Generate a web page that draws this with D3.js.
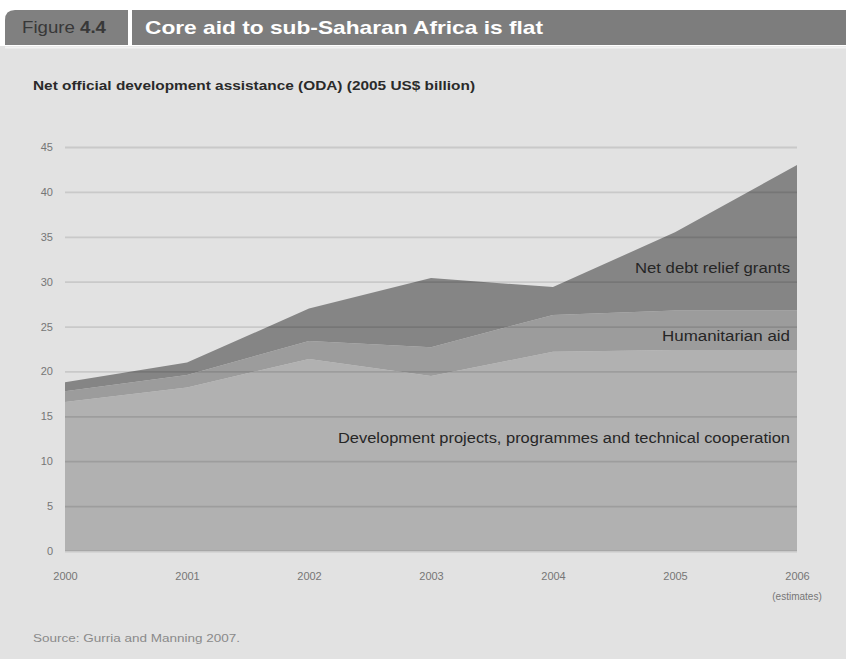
<!DOCTYPE html>
<html>
<head>
<meta charset="utf-8">
<script src="https://cdn.jsdelivr.net/npm/d3@7"></script>
<style>
  html, body { margin: 0; padding: 0; background: #ffffff; }
  svg { display: block; }
</style>
</head>
<body>
<script>
// Net ODA to sub-Saharan Africa, 2005 US$ billion
const years = ["2000", "2001", "2002", "2003", "2004", "2005", "2006"];
const development = [16.6, 18.2, 21.4, 19.5, 22.2, 22.4, 22.4];
const humanitarian = [1.2, 1.4, 2.0, 3.2, 4.1, 4.4, 4.4];
const debtRelief = [1.0, 1.4, 3.6, 7.7, 3.1, 8.7, 16.2];
const yTicks = [0, 5, 10, 15, 20, 25, 30, 35, 40, 45];
const seriesNames = ["Development projects, programmes and technical cooperation", "Humanitarian aid", "Net debt relief grants"];

const W = 846, H = 659;
const margin = { left: 65, right: 49, top: 147, bottom: 108 };
const iw = W - margin.left - margin.right;
const ih = H - margin.top - margin.bottom;
const narrow = "'Liberation Sans Narrow', 'Arial Narrow', 'Liberation Sans', Arial, sans-serif";

const svg = d3.select("body").append("svg").attr("width", W).attr("height", H);

// panel background
svg.append("rect").attr("x", 0).attr("y", 46).attr("width", W).attr("height", H - 46).attr("fill", "#e2e2e2");

// header bar: figure tab + title band
const header = svg.append("g");
header.append("path")
  .attr("d", "M5,45 L5,20 Q5,10 15,10 L128,10 L128,45 Z")
  .attr("fill", "#808080");
header.append("rect").attr("x", 132).attr("y", 10).attr("width", W - 132).attr("height", 35).attr("fill", "#7d7d7d");
header.append("line").attr("x1", 5).attr("x2", W).attr("y1", 47.5).attr("y2", 47.5)
  .attr("stroke", "#f2f2f2").attr("stroke-width", 2);
const figLabel = header.append("text").attr("x", 22).attr("y", 33)
  .attr("font-family", narrow)
  .attr("font-size", 17).attr("fill", "#383838")
  .attr("textLength", 84).attr("lengthAdjust", "spacingAndGlyphs");
figLabel.append("tspan").text("Figure ");
figLabel.append("tspan").attr("font-weight", "bold").text("4.4");
header.append("text").attr("x", 145).attr("y", 34)
  .attr("font-family", "'Liberation Sans', Arial, sans-serif")
  .attr("font-size", 19).attr("font-weight", "bold").attr("fill", "#ffffff")
  .attr("textLength", 398).attr("lengthAdjust", "spacingAndGlyphs")
  .text("Core aid to sub-Saharan Africa is flat");

// subtitle
svg.append("text").attr("x", 33).attr("y", 90)
  .attr("font-family", narrow)
  .attr("font-size", 13).attr("font-weight", "bold").attr("fill", "#2a2a2a")
  .attr("textLength", 442).attr("lengthAdjust", "spacingAndGlyphs")
  .text("Net official development assistance (ODA) (2005 US$ billion)");

const g = svg.append("g").attr("transform", `translate(${margin.left},${margin.top})`);

const x = d3.scalePoint().domain(years).range([0, iw]);
const y = d3.scaleLinear().domain([0, 45]).range([ih, 0]);

const rows = years.map((yr, i) => ({
  year: yr, dev: development[i], hum: humanitarian[i], debt: debtRelief[i]
}));
const stack = d3.stack().keys(["dev", "hum", "debt"]);
const layers = stack(rows);
const colors = ["#b1b1b1", "#9c9c9c", "#858585"];

const area = d3.area()
  .x(d => x(d.data.year))
  .y0(d => y(d[0]))
  .y1(d => y(d[1]));

g.selectAll("path.layer").data(layers).join("path")
  .attr("class", "layer")
  .attr("d", area)
  .attr("fill", (d, i) => colors[i]);

// gridlines and y labels
const yAxis = d3.axisLeft(y).tickValues(yTicks).tickSize(-iw).tickPadding(12);
const ya = g.append("g").call(yAxis);
ya.select(".domain").remove();
ya.selectAll(".tick line").attr("stroke", "#000").attr("stroke-opacity", 0.11).attr("stroke-width", 1.8);
ya.selectAll(".tick text")
  .attr("font-family", narrow)
  .attr("font-size", 11).attr("fill", "#767676");

// x labels
const xAxis = d3.axisBottom(x).tickSize(0).tickPadding(21);
const xa = g.append("g").attr("transform", `translate(0,${ih})`).call(xAxis);
xa.select(".domain").remove();
xa.selectAll(".tick text")
  .attr("font-family", narrow)
  .attr("font-size", 11).attr("fill", "#767676");
g.append("text").attr("x", x(years[years.length - 1])).attr("y", ih + 49)
  .attr("text-anchor", "middle")
  .attr("font-family", narrow)
  .attr("font-size", 10).attr("fill", "#767676")
  .text("(estimates)");

// series labels inside the bands
const labelY = [438, 336, 268];
const labelW = [452, 128, 155];
seriesNames.forEach((name, i) => {
  svg.append("text")
    .attr("x", 790).attr("y", labelY[i] + 5)
    .attr("text-anchor", "end")
    .attr("font-family", narrow)
    .attr("font-size", 14).attr("fill", "#262626")
    .attr("textLength", labelW[i]).attr("lengthAdjust", "spacingAndGlyphs")
    .text(name);
});

// source note
svg.append("text").attr("x", 33).attr("y", 642)
  .attr("font-family", narrow)
  .attr("font-size", 11).attr("fill", "#8a8a8a")
  .attr("textLength", 207).attr("lengthAdjust", "spacingAndGlyphs")
  .text("Source: Gurria and Manning 2007.");
</script>
</body>
</html>
